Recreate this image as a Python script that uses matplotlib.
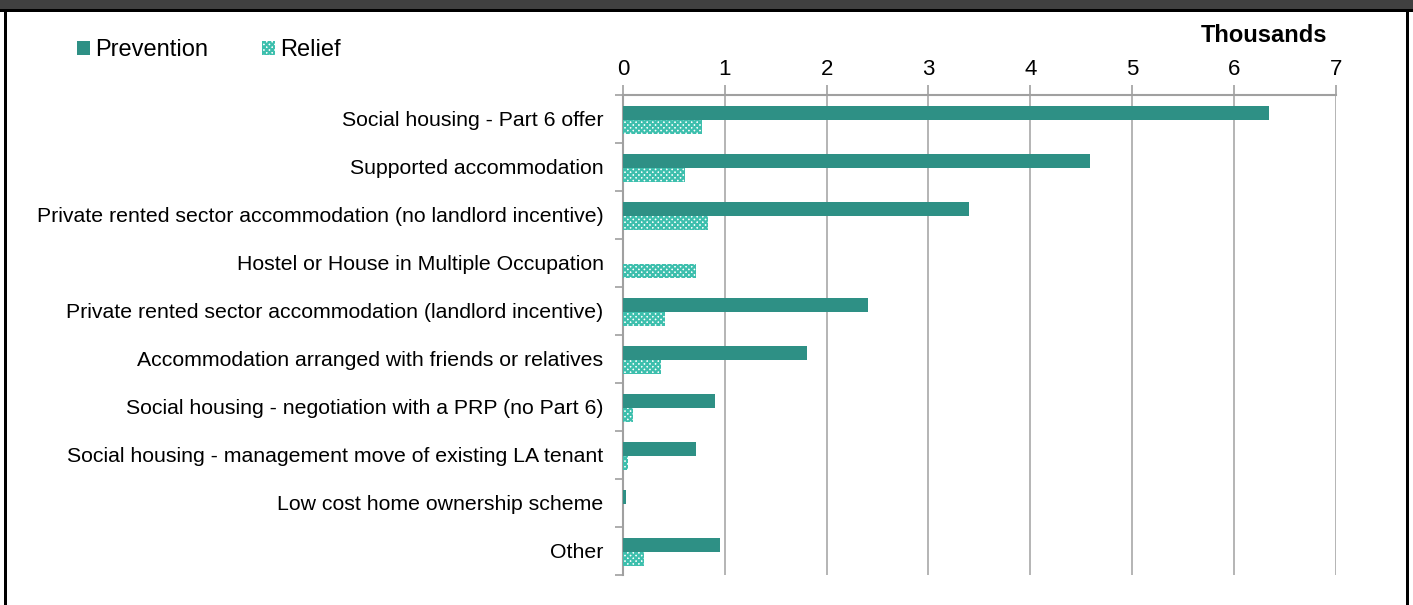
import matplotlib
matplotlib.use("Agg")
import matplotlib.pyplot as plt
from matplotlib.patches import Rectangle, Patch
import numpy as np

categories = [
    "Social housing - Part 6 offer",
    "Supported accommodation",
    "Private rented sector accommodation (no landlord incentive)",
    "Hostel or House in Multiple Occupation",
    "Private rented sector accommodation (landlord incentive)",
    "Accommodation arranged with friends or relatives",
    "Social housing - negotiation with a PRP (no Part 6)",
    "Social housing - management move of existing LA tenant",
    "Low cost home ownership scheme",
    "Other",
]
prevention = [6.34, 4.59, 3.40, 0.0, 2.41, 1.81, 0.90, 0.72, 0.026, 0.95]
relief = [0.78, 0.61, 0.83, 0.72, 0.41, 0.37, 0.095, 0.046, 0.0, 0.21]
xticks = [0, 1, 2, 3, 4, 5, 6, 7]

plt.rcParams['font.family'] = ['Liberation Sans', 'DejaVu Sans']
plt.rcParams['hatch.linewidth'] = 1.6

W, H = 1413, 605
fig = plt.figure(figsize=(W / 100, H / 100), dpi=100)

# frame decorations
fig.patches.append(Rectangle((0, 1 - 9 / H), 1, 9 / H, transform=fig.transFigure,
                             facecolor='#404040', edgecolor='none', zorder=0))
fig.patches.append(Rectangle((0, 1 - 12 / H), 1, 3 / H, transform=fig.transFigure,
                             facecolor='black', edgecolor='none', zorder=0))
fig.patches.append(Rectangle((4 / W, 0), 3 / W, 1 - 9 / H, transform=fig.transFigure,
                             facecolor='black', edgecolor='none', zorder=0))
fig.patches.append(Rectangle((1406 / W, 0), 3 / W, 1 - 9 / H, transform=fig.transFigure,
                             facecolor='black', edgecolor='none', zorder=0))

ax = fig.add_axes([623 / W, 1 - 575 / H, (1335.7 - 623) / W, 480 / H])

y = np.arange(len(categories))
h = 0.29
prev_col = '#2E9085'
rel_col = '#3DBFAD'
ax.barh(y - h / 2 + 0.02, prevention, height=h, color=prev_col, zorder=3)
ax.barh(y + h / 2 + 0.02, relief, height=h, facecolor='white', edgecolor=rel_col,
        hatch='xxxxxx', linewidth=0, zorder=3)

ax.set_xlim(0, 7)
ax.set_ylim(len(categories) - 0.5, -0.5)
ax.xaxis.tick_top()
ax.set_xticks(xticks)
ax.set_xticklabels([str(t) for t in xticks], fontsize=16)
ax.tick_params(axis='x', which='major', length=7, width=1.2, color='#A0A0A0', pad=4)
ax.grid(axis='x', color='#A8A8A8', linewidth=1.2, zorder=0)

ax.set_yticks(y)
ax.set_yticklabels(categories, fontsize=15.3)
ax.tick_params(axis='y', which='major', length=0, pad=14)
ax.set_yticks(np.arange(len(categories) + 1) - 0.5, minor=True)
ax.tick_params(axis='y', which='minor', length=6, width=1.2, color='#A0A0A0')

for s in ['right', 'bottom']:
    ax.spines[s].set_visible(False)
for s in ['left', 'top']:
    ax.spines[s].set_color('#A0A0A0')
    ax.spines[s].set_linewidth(1.5)

fig.text(1264 / W, 1 - 35 / H, "Thousands", fontsize=17, fontweight='bold',
         ha='center', va='center')

handles = [Patch(facecolor=prev_col, edgecolor='none'),
           Patch(facecolor='white', edgecolor=rel_col, hatch='xxxxxx', linewidth=0)]
fig.legend(handles, ["Prevention", "Relief"], loc='center left',
           bbox_to_anchor=(77 / W, 1 - 50 / H), ncol=2, frameon=False,
           fontsize=17, handlelength=0.55, handleheight=0.55, handletextpad=0.2,
           columnspacing=2.3, borderaxespad=0, borderpad=0)

fig.savefig("out.png", dpi=100)
